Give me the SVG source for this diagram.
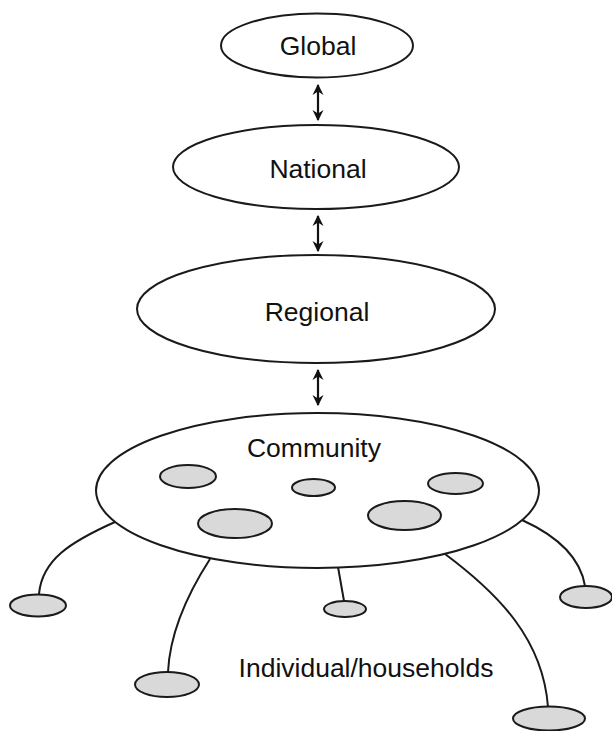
<svg xmlns="http://www.w3.org/2000/svg" width="612" height="731" viewBox="0 0 612 731">
<defs>
<style>
.lvl{fill:#fff;stroke:#1a1a1a;stroke-width:2}
.hh{fill:#d9d9d9;stroke:#1a1a1a;stroke-width:2}
.lbl{font-family:"Liberation Sans",Arial,sans-serif;font-size:26.5px;fill:#111;text-anchor:middle}
.arr{stroke:#111;stroke-width:2.2;fill:none;marker-start:url(#ah);marker-end:url(#ah)}
.ln{stroke:#1a1a1a;stroke-width:2;fill:none}
</style>
<marker id="ah" viewBox="0 0 10 10" refX="9" refY="5" markerWidth="5" markerHeight="6" orient="auto-start-reverse" markerUnits="strokeWidth">
<path d="M0,0 L10,5 L0,10 L3,5 Z" fill="#111"/>
</marker>
</defs>
<rect width="612" height="731" fill="#fff"/>
<g id="connectors">
<line class="arr" x1="318" y1="85" x2="318" y2="120"/>
<line class="arr" x1="318" y1="216" x2="318" y2="251"/>
<line class="arr" x1="318" y1="370" x2="318" y2="405"/>
<path class="ln" d="M115,522 C70,542 42,560 39,594"/>
<path class="ln" d="M210,559 C190,590 170,630 168,672"/>
<path class="ln" d="M338,567 L344,601"/>
<path class="ln" d="M445,554 C500,595 543,640 548,707"/>
<path class="ln" d="M522,520 C555,535 580,555 585,586"/>
</g>
<g id="global">
<ellipse class="lvl" cx="317" cy="45.5" rx="96" ry="32"/>
<text class="lbl" x="318" y="55">Global</text>
</g>
<g id="national">
<ellipse class="lvl" cx="316" cy="167" rx="143" ry="42"/>
<text class="lbl" x="318" y="178">National</text>
</g>
<g id="regional">
<ellipse class="lvl" cx="316" cy="309" rx="179" ry="54"/>
<text class="lbl" x="317" y="321">Regional</text>
</g>
<g id="community">
<ellipse class="lvl" cx="317.5" cy="490.5" rx="221.5" ry="77.5"/>
<text class="lbl" x="314" y="457">Community</text>
<ellipse class="hh" cx="188" cy="476.5" rx="28" ry="11.5"/>
<ellipse class="hh" cx="313.5" cy="487.5" rx="21.5" ry="8.5"/>
<ellipse class="hh" cx="455.5" cy="483.5" rx="27.5" ry="10.5"/>
<ellipse class="hh" cx="235" cy="523.5" rx="37" ry="14.5"/>
<ellipse class="hh" cx="404.5" cy="515.5" rx="36.5" ry="14.5"/>
</g>
<g id="households">
<ellipse class="hh" cx="38" cy="605.5" rx="28" ry="11"/>
<ellipse class="hh" cx="167" cy="684.5" rx="32" ry="12.5"/>
<ellipse class="hh" cx="345" cy="609" rx="21" ry="8"/>
<ellipse class="hh" cx="586" cy="597" rx="26" ry="11"/>
<ellipse class="hh" cx="549" cy="718.5" rx="36" ry="12"/>
<text class="lbl" x="366" y="677">Individual/households</text>
</g>
</svg>
